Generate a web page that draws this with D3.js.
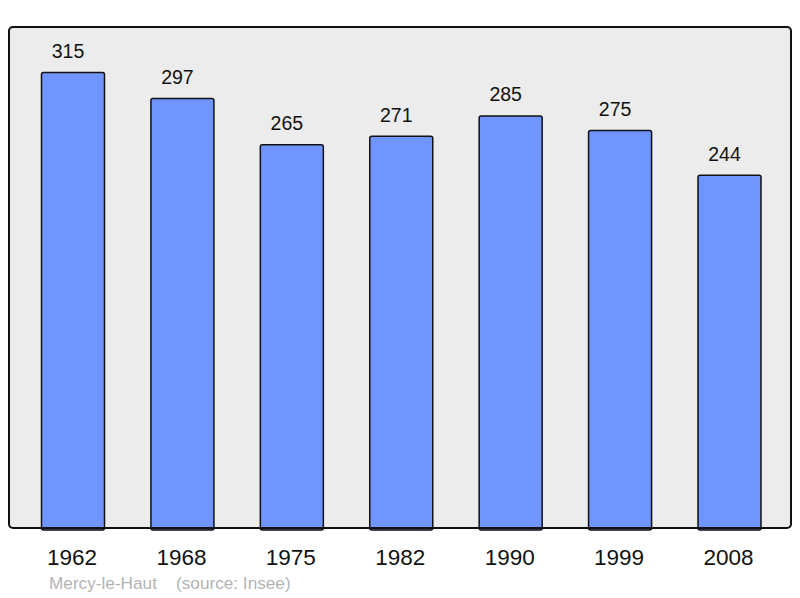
<!DOCTYPE html>
<html>
<head>
<meta charset="utf-8">
<script src="https://cdn.jsdelivr.net/npm/d3@7"></script>
<style>
  body { margin: 0; background: #fff; }
  text { font-family: "Liberation Sans", Arial, sans-serif; }
</style>
</head>
<body>
<svg class="chart" width="800" height="598"></svg>
<script>
const years = ["1962", "1968", "1975", "1982", "1990", "1999", "2008"];
const population = [315, 297, 265, 271, 285, 275, 244];
const place = "Mercy-le-Haut";
const source = "(source: Insee)";

const svg = d3.select(".chart");
const panel = { x0: 9, y0: 27, x1: 791, y1: 528 };

svg.append("rect")
  .attr("x", panel.x0).attr("y", panel.y0)
  .attr("width", panel.x1 - panel.x0).attr("height", panel.y1 - panel.y0)
  .attr("rx", 4)
  .attr("fill", "#ececec");

const x = d3.scalePoint().domain(years).range([73, 729.5]);
const barW = 63;
const y = d3.scaleLinear().domain([0, d3.max(population) * 1.1]).range([panel.y1, panel.y0]);

const data = years.map((yr, i) => ({ year: yr, value: population[i] }));

svg.append("g").selectAll("rect")
  .data(data)
  .join("rect")
  .attr("x", d => x(d.year) - barW / 2)
  .attr("y", d => y(d.value))
  .attr("width", barW)
  .attr("height", d => y(0) - y(d.value) + 2)
  .attr("rx", 2)
  .attr("fill", "#7095ff")
  .attr("stroke", "#111")
  .attr("stroke-width", 1.5);

svg.append("g").selectAll("text")
  .data(data)
  .join("text")
  .attr("x", d => x(d.year) - 5)
  .attr("y", d => y(d.value) - 14.5)
  .attr("text-anchor", "middle")
  .attr("font-size", 19.5)
  .attr("fill", "#111")
  .text(d => d.value);

// panel border on top of bars
svg.append("rect")
  .attr("x", panel.x0).attr("y", panel.y0)
  .attr("width", panel.x1 - panel.x0).attr("height", panel.y1 - panel.y0)
  .attr("rx", 4)
  .attr("fill", "none")
  .attr("stroke", "#111")
  .attr("stroke-width", 2);

svg.append("g").selectAll("text")
  .data(years)
  .join("text")
  .attr("x", d => x(d) - 1)
  .attr("y", 565)
  .attr("text-anchor", "middle")
  .attr("font-size", 22.5)
  .attr("fill", "#111")
  .text(d => d);

svg.append("text")
  .attr("x", 49).attr("y", 589)
  .attr("font-size", 17.2)
  .attr("fill", "#b3b3b3")
  .text(place);

svg.append("text")
  .attr("x", 176).attr("y", 589)
  .attr("font-size", 17.2)
  .attr("fill", "#b3b3b3")
  .text(source);
</script>
</body>
</html>
